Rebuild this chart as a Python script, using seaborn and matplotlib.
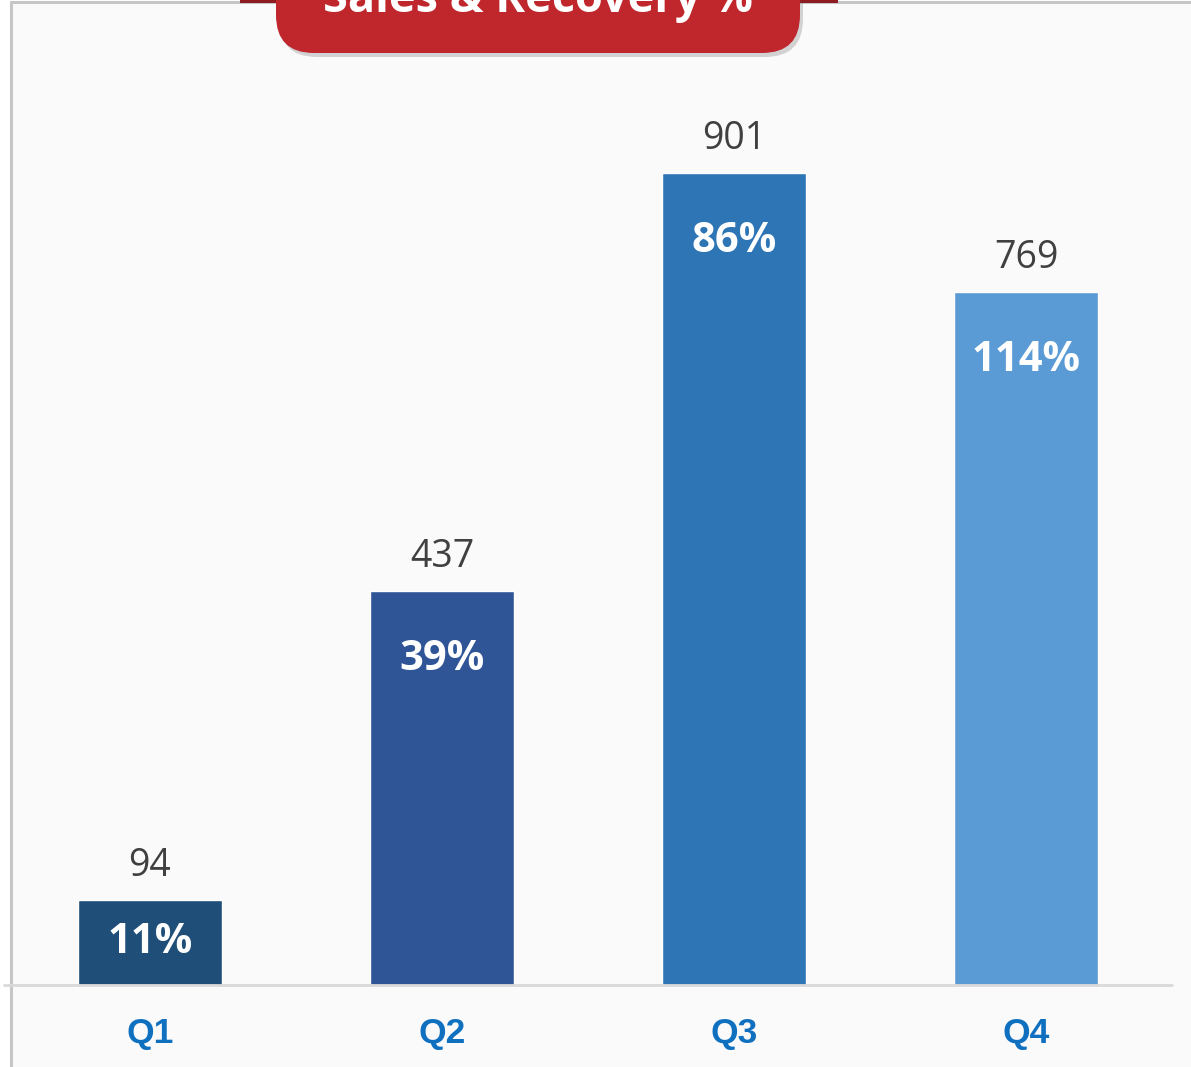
import matplotlib
matplotlib.use("Agg")
import matplotlib.pyplot as plt
from matplotlib.patches import FancyBboxPatch, Rectangle
from matplotlib.lines import Line2D
import seaborn as sns
import pandas as pd

# ---- Data
quarters = ["Q1", "Q2", "Q3", "Q4"]
sales = [94, 437, 901, 769]
recovery = ["11%", "39%", "86%", "114%"]
bar_colors = ["#1f4e79", "#2f5597", "#2e75b6", "#5b9bd5"]

TITLE = "Sales & Recovery %"
BG = "#fafafa"
W, H = 1191, 1067

sns.set_theme(style="white")
plt.rcParams["font.family"] = ["Open Sans", "DejaVu Sans"]

fig = plt.figure(figsize=(W / 100, H / 100), dpi=100)
fig.patch.set_facecolor("white")
px = fig.dpi_scale_trans  # work in pixels / 100


def P(x, y):
    # pixel coords measured from top-left -> inches from bottom-left
    return x / 100, (H - y) / 100


# panel background + frame
fig.add_artist(Rectangle(P(11, H), (W - 11) / 100, (H - 2) / 100,
                         transform=px, facecolor=BG, edgecolor="none", zorder=0))
fig.add_artist(Line2D([11 / 100, 11 / 100], [0, (H - 2) / 100], transform=px,
                      color="#c6c6c6", lw=2.2, zorder=1))
fig.add_artist(Line2D([11 / 100, W / 100], [(H - 2) / 100] * 2, transform=px,
                      color="#c6c6c6", lw=2.2, zorder=1))

# ---- Bars
left, right, base, top = 11, 1172, 985, 2
ax = fig.add_axes([left / W, (H - base) / H, (right - left) / W, (base - top) / H])
ax.set_facecolor("none")

df = pd.DataFrame({"quarter": quarters, "sales": sales})
sns.barplot(data=df, x="quarter", y="sales", hue="quarter", palette=bar_colors,
            width=0.49, saturation=1, legend=False, ax=ax)

ax.set_xlim(-0.476, 3.5)
ymax = (base - top) / 0.901
ax.set_ylim(0, ymax)
ax.set_yticks([])
ax.set_xlabel("")
ax.set_ylabel("")
for s in ax.spines.values():
    s.set_visible(False)

ax.tick_params(axis="x", length=0, pad=23)
ax.set_xticks(range(len(quarters)))
ax.set_xticklabels(quarters, fontsize=25.5, fontweight="bold", color="#1070c0",
                   family=["Liberation Sans", "DejaVu Sans"])

# baseline
fig.add_artist(Line2D([4 / 100, 1172 / 100], [(H - base) / 100] * 2, transform=px,
                      color="#d9d9d9", lw=2, zorder=3))

unit_px = (base - top) / ymax
for i, (v, r) in enumerate(zip(sales, recovery)):
    ax.annotate(str(v), (i, v), xytext=(0, 24.5), textcoords="offset points",
                ha="center", va="center", fontsize=27, color="#404040")
    bar_px = v * unit_px
    off = min(68, bar_px / 2) * 0.72
    ax.annotate(r, (i, v), xytext=(0, -off), textcoords="offset points",
                ha="center", va="center", fontsize=30, fontweight="bold",
                color="white")

# ---- Title banner
shadow = FancyBboxPatch(P(279, 57), 524 / 100, 1.0, transform=px,
                        boxstyle="round,pad=0,rounding_size=0.38",
                        facecolor="#888888", edgecolor="none", alpha=0.35, zorder=4)
fig.add_artist(shadow)
for x0, x1 in [(240, 276), (800, 838)]:
    fig.add_artist(Rectangle(P(x0, 3), (x1 - x0) / 100, 0.05, transform=px,
                             facecolor="#8e1b20", edgecolor="none", zorder=4))
banner = FancyBboxPatch(P(276, 53), 524 / 100, 1.0, transform=px,
                        boxstyle="round,pad=0,rounding_size=0.38",
                        facecolor="#c0272d", edgecolor="none", zorder=5)
fig.add_artist(banner)
fig.text(538 / W, (H - 12) / H, TITLE, ha="center", va="baseline",
         fontsize=32.5, fontweight="bold", color="white", zorder=6)

fig.savefig("out.png", dpi=100, facecolor="white")
